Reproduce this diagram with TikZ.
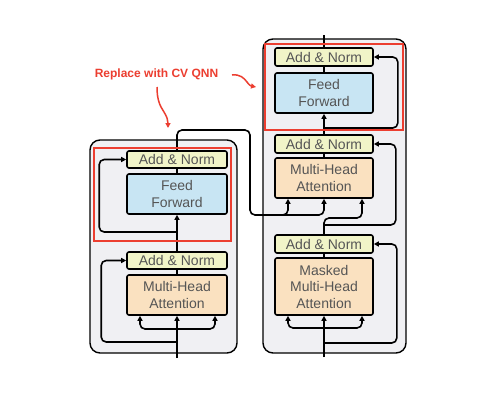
\documentclass[tikz,border=0pt]{standalone}
\usepackage{fontspec}
\setmainfont{Liberation Sans}
\usetikzlibrary{arrows.meta,calc}
\definecolor{anfill}{RGB}{241,244,200}
\definecolor{fffill}{RGB}{200,229,243}
\definecolor{attfill}{RGB}{250,225,192}
\definecolor{outerfill}{RGB}{240,240,243}
\definecolor{txtgray}{RGB}{85,85,85}
\definecolor{annred}{RGB}{236,62,48}
\begin{document}
\begin{tikzpicture}[x=1pt,y=-1pt,
  blk/.style={draw=black, line width=1.6pt, rounded corners=2pt, minimum width=100pt,
    text=txtgray, font=\fontsize{14}{16.5}\selectfont, align=center, inner sep=0pt},
  an/.style={blk, fill=anfill, minimum height=17pt},
  ff/.style={blk, fill=fffill, minimum height=40pt},
  att/.style={blk, fill=attfill, minimum height=40pt},
  outer/.style={draw=black, line width=1.4pt, rounded corners=10pt, fill=outerfill, inner sep=0pt},
  redbox/.style={draw=annred, line width=2.6pt, inner sep=0pt},
  wire/.style={line width=1.6pt, rounded corners=5pt},
  arr/.style={wire, -{Triangle[length=5pt,width=5pt]}},
  redarr/.style={draw=annred, line width=1.5pt, -{Triangle[length=5pt,width=5pt]}},
  redtext/.style={text=annred, font=\fontsize{12}{14}\selectfont\bfseries, inner sep=0pt}]
\useasboundingbox (0,0) rectangle (496,402);
\fill[white] (0,0) rectangle (496,402);

% outer boxes
\node[outer, minimum width=147pt, minimum height=213pt] (encbox) at (163.5,246.5) {};
\node[outer, minimum width=143pt, minimum height=314pt] (decbox) at (334.5,196) {};

% encoder blocks
\node[an] (eAN1) at (177,159.5) {Add \& Norm};
\node[ff] (eFF) at (177,194) {Feed\\Forward};
\node[an] (eAN2) at (177,260.5) {Add \& Norm};
\node[att] (eMHA) at (177,295) {Multi-Head\\Attention};

% decoder blocks
\node[an, minimum width=98pt, minimum height=18pt] (dAN1) at (324,57) {Add \& Norm};
\node[ff, minimum width=98pt] (dFF) at (324,93) {Feed\\Forward};
\node[an, minimum width=98pt, minimum height=18pt] (dAN2) at (324,144) {Add \& Norm};
\node[att, minimum width=98pt] (dMHA) at (324,178) {Multi-Head\\Attention};
\node[an, minimum width=98pt, minimum height=18pt] (dAN3) at (324,244) {Add \& Norm};
\node[att, minimum width=98pt, minimum height=57pt] (dMMHA) at (324,286.5) {Masked\\Multi-Head\\Attention};

% encoder wiring
\coordinate (eIn) at (177,358);
\coordinate (eSplit) at (177,329);
\coordinate (eRes1) at (177,342);
\coordinate (eRes2) at (177,232);
\coordinate (eTurn) at (250,130);
\coordinate (kv) at (262,215);
\draw[arr] (eIn) -- (eMHA.south);
\draw[arr] (eSplit) -| ([xshift=-37pt]eMHA.south);
\draw[arr] (eSplit) -| ([xshift=38pt]eMHA.south);
\draw[arr] (eRes1) -| ([xshift=-25pt]eAN2.west) -- (eAN2.west);
\draw[wire] (eMHA.north) -- (eAN2.south);
\draw[arr] (eAN2.north) -- (eFF.south);
\draw[arr] (eRes2) -| ([xshift=-27pt]eAN1.west) -- (eAN1.west);
\draw[wire] (eFF.north) -- (eAN1.south);
\draw[wire] (eAN1.north) |- (eTurn) |- (kv);
\draw[arr] (kv) -| ([xshift=-36pt]dMHA.south);
\draw[arr] (kv) -| (dMHA.south);

% decoder wiring
\coordinate (dIn) at (324,357);
\coordinate (dSplit) at (324,328);
\coordinate (dRes1) at (324,343);
\coordinate (dQ) at (324,218);
\coordinate (dRes2) at (324,225);
\coordinate (dRes3) at (324,128);
\coordinate (dOut) at (324,35);
\draw[arr] (dIn) -- (dMMHA.south);
\draw[arr] (dSplit) -| ([xshift=-36pt]dMMHA.south);
\draw[arr] (dSplit) -| ([xshift=38pt]dMMHA.south);
\draw[arr] (dRes1) -| ([xshift=23pt]dAN3.east) -- (dAN3.east);
\draw[wire] (dMMHA.north) -- (dAN3.south);
\draw[arr] (dAN3.north) -- (dQ) -| ([xshift=38pt]dMHA.south);
\draw[arr] (dRes2) -| ([xshift=22pt]dAN2.east) -- (dAN2.east);
\draw[wire] (dMHA.north) -- (dAN2.south);
\draw[arr] (dAN2.north) -- (dFF.south);
\draw[arr] (dRes3) -| ([xshift=24pt]dAN1.east) -- (dAN1.east);
\draw[wire] (dFF.north) -- (dAN1.south);
\draw[wire] (dAN1.north) -- (dOut);

% red highlight boxes
\node[redbox, minimum width=137pt, minimum height=93pt] (eRed) at (162.5,194.5) {};
\node[redbox, minimum width=138pt, minimum height=86pt] (dRed) at (334,87) {};

% annotation
\node[redtext] (note) at (156.5,74) {Replace with CV QNN};
\coordinate (r1s) at (157,87);
\coordinate (r1e) at (168,128);
\coordinate (r2s) at (232,75);
\coordinate (r2e) at (256,87);
\draw[redarr] (r1s) .. controls (157,100) and (160,106) .. (164,112) .. controls (167,117) and (168,120) .. (r1e);
\draw[redarr] (r2s) .. controls (240,74) and (244,78) .. (247,82) .. controls (249,85) and (251,86) .. (r2e);
\end{tikzpicture}
\end{document}
